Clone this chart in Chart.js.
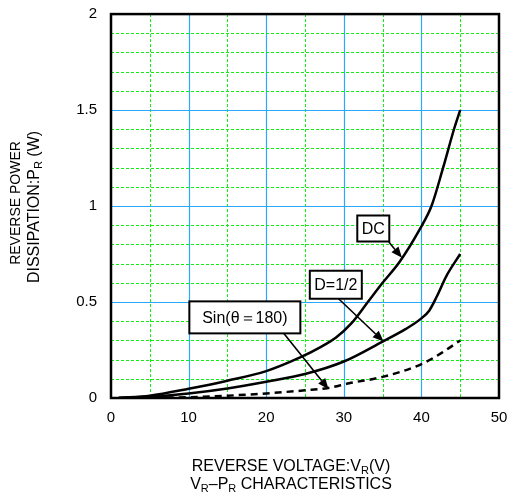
<!DOCTYPE html>
<html><head><meta charset="utf-8">
<script src="https://cdn.jsdelivr.net/npm/chart.js@4"></script>
<style>html,body{margin:0;padding:0;background:#fff}#wrap{width:508px;height:500px;position:relative}</style>
</head><body><div id="wrap"><canvas id="c"></canvas></div>
<script>
// ---- data ----
const dcVoltage   = [1, 5, 10, 15, 20, 24.3, 27, 29, 31, 33.1, 35, 37.2, 39.8, 41.3, 42.8, 44.2, 45];
const dcPower     = [0, 0.012, 0.048, 0.09, 0.14, 0.21, 0.265, 0.315, 0.39, 0.5, 0.6, 0.71, 0.88, 1.0, 1.2, 1.4, 1.5];
const halfVoltage = [1, 5, 10, 15, 20, 25, 30, 35, 38, 40, 41, 42, 43.2, 45];
const halfPower   = [0, 0.006, 0.024, 0.05, 0.085, 0.125, 0.19, 0.294, 0.36, 0.415, 0.455, 0.53, 0.634, 0.75];
const sinVoltage  = [1, 10, 15, 20, 25, 28, 30.7, 35, 40.2, 42.8, 45];
const sinPower    = [0, 0.004, 0.012, 0.024, 0.04, 0.052, 0.077, 0.11, 0.18, 0.24, 0.30];
const xTickLabels = [0, 10, 20, 30, 40, 50];
const yTickLabels = [0, 0.5, 1, 1.5, 2];
const seriesNames = ['DC', 'D=1/2', 'Sin(θ＝180)'];

const FONT = '"Liberation Sans", Arial, sans-serif';
const toPts = (xs, ys) => xs.map((x, i) => ({x, y: ys[i]}));

// annotation callouts (data units)
const callouts = [
  {text: seriesNames[0], cx: 33.8, cy: 0.883, w: 32, h: 26, from: [35.8, 0.813], to: [37.5, 0.73]},
  {text: seriesNames[1], cx: 28.97, cy: 0.59, w: 52, h: 28, from: [29.33, 0.517], to: [35.13, 0.294]},
  {text: seriesNames[2], cx: 17.25, cy: 0.42, w: 111, h: 32, from: [22.23, 0.338], to: [28.04, 0.045]}
];

const isMult = (v, m) => Math.abs(v / m - Math.round(v / m)) < 1e-6;
const MAJOR = '#2aa8ff', MINOR = '#11ee11';

const gridPlugin = {
  id: 'grid',
  beforeDatasetsDraw(chart) {
    const {ctx, chartArea: a, scales: {x, y}} = chart;
    ctx.save();
    x.ticks.forEach(t => {
      const v = t.value; if (v <= 0 || v >= 50) return;
      const px = Math.round(x.getPixelForValue(v)) + 0.5;
      const major = isMult(v, 10);
      ctx.beginPath();
      ctx.setLineDash(major ? [] : [3, 2]);
      ctx.strokeStyle = major ? MAJOR : MINOR;
      ctx.lineWidth = major ? 1.2 : 1;
      ctx.moveTo(px, a.top); ctx.lineTo(px, a.bottom); ctx.stroke();
    });
    y.ticks.forEach(t => {
      const v = t.value; if (v <= 0.001 || v >= 1.999) return;
      const py = Math.round(y.getPixelForValue(v)) + 0.5;
      const major = isMult(v, 0.5);
      ctx.beginPath();
      ctx.setLineDash(major ? [] : [3, 2]);
      ctx.strokeStyle = major ? MAJOR : MINOR;
      ctx.lineWidth = major ? 1.2 : 1;
      ctx.moveTo(a.left, py); ctx.lineTo(a.right, py); ctx.stroke();
    });
    ctx.restore();
  },
  afterDatasetsDraw(chart) {
    const {ctx, chartArea: a, scales: {x, y}} = chart;
    ctx.save();
    callouts.forEach(c => {
      const x1 = x.getPixelForValue(c.from[0]), y1 = y.getPixelForValue(c.from[1]);
      const x2 = x.getPixelForValue(c.to[0]), y2 = y.getPixelForValue(c.to[1]);
      const ang = Math.atan2(y2 - y1, x2 - x1);
      const L = 11, W = 4.5;
      const bx = x2 - L * Math.cos(ang), by = y2 - L * Math.sin(ang);
      ctx.strokeStyle = '#000'; ctx.lineWidth = 1.6; ctx.setLineDash([]);
      ctx.beginPath(); ctx.moveTo(x1, y1); ctx.lineTo(bx, by); ctx.stroke();
      ctx.fillStyle = '#000';
      ctx.beginPath();
      ctx.moveTo(x2, y2);
      ctx.lineTo(bx + W * Math.sin(ang), by - W * Math.cos(ang));
      ctx.lineTo(bx - W * Math.sin(ang), by + W * Math.cos(ang));
      ctx.closePath(); ctx.fill();
      const cx = x.getPixelForValue(c.cx), cy = y.getPixelForValue(c.cy);
      ctx.fillStyle = '#fff';
      ctx.fillRect(cx - c.w / 2, cy - c.h / 2, c.w, c.h);
      ctx.lineWidth = 2; ctx.strokeStyle = '#000';
      ctx.strokeRect(cx - c.w / 2, cy - c.h / 2, c.w, c.h);
      ctx.fillStyle = '#000';
      ctx.font = '16px ' + FONT;
      ctx.textAlign = 'center'; ctx.textBaseline = 'middle';
      ctx.fillText(c.text, cx, cy + 1);
    });
    ctx.lineWidth = 2.5; ctx.strokeStyle = '#000';
    ctx.strokeRect(a.left, a.top, a.right - a.left, a.bottom - a.top);
    ctx.restore();
  },
  afterDraw(chart) {
    const {ctx} = chart;
    ctx.save();
    ctx.fillStyle = '#000';
    const drawSub = (parts, x, y, size) => {
      const sub = Math.round(size * 0.7);
      let total = 0;
      parts.forEach(p => { ctx.font = (p[1] ? sub : size) + 'px ' + FONT; total += ctx.measureText(p[0]).width; });
      let cx = x - total / 2;
      ctx.textAlign = 'left'; ctx.textBaseline = 'alphabetic';
      parts.forEach(p => {
        ctx.font = (p[1] ? sub : size) + 'px ' + FONT;
        ctx.fillText(p[0], cx, y + (p[1] ? 3 : 0));
        cx += ctx.measureText(p[0]).width;
      });
    };
    drawSub([['REVERSE VOLTAGE:V', 0], ['R', 1], ['(V)', 0]], 291, 471, 16);
    drawSub([['V', 0], ['R', 1], ['–P', 0], ['R', 1], [' CHARACTERISTICS', 0]], 291, 489, 16);
    ctx.translate(0, 205);
    ctx.rotate(-Math.PI / 2);
    drawSub([['REVERSE POWER', 0]], 2, 20, 14);
    drawSub([['DISSIPATION:P', 0], ['R', 1], [' (W)', 0]], -2, 39, 16);
    ctx.restore();
  }
};

new Chart(document.getElementById('c'), {
  type: 'scatter',
  data: {
    datasets: [
      {label: seriesNames[0], data: toPts(dcVoltage, dcPower), showLine: true, borderColor: '#000', borderWidth: 2.5, pointRadius: 0, cubicInterpolationMode: 'monotone'},
      {label: seriesNames[1], data: toPts(halfVoltage, halfPower), showLine: true, borderColor: '#000', borderWidth: 2.5, pointRadius: 0, cubicInterpolationMode: 'monotone'},
      {label: seriesNames[2], data: toPts(sinVoltage, sinPower), showLine: true, borderColor: '#000', borderWidth: 2.5, borderDash: [7, 5], pointRadius: 0, cubicInterpolationMode: 'monotone'}
    ]
  },
  options: {
    responsive: true, maintainAspectRatio: false, animation: false,
    layout: {padding: {left: 0, right: 9, top: 0, bottom: 0}},
    plugins: {legend: {display: false}, tooltip: {enabled: false}},
    scales: {
      x: {
        type: 'linear', min: 0, max: 50,
        grid: {display: false, drawTicks: false}, border: {display: false},
        ticks: {stepSize: 5, autoSkip: false, maxRotation: 0, padding: 0, color: '#000', font: {size: 15, family: FONT, lineHeight: 2.6},
          callback: v => xTickLabels.includes(v) ? String(v) : ''},
        afterFit: s => { s.height = 102; }
      },
      y: {
        type: 'linear', min: 0, max: 2,
        grid: {display: false, drawTicks: false}, border: {display: false},
        ticks: {stepSize: 0.1, autoSkip: false, padding: 14, color: '#000', font: {size: 15, family: FONT, lineHeight: 0.01},
          callback: v => { const m = yTickLabels.find(t => Math.abs(t - v) < 1e-6); return m === undefined ? '' : String(m); }},
        afterFit: s => { s.width = 111; }
      }
    }
  },
  plugins: [gridPlugin]
});
</script>
</body></html>
